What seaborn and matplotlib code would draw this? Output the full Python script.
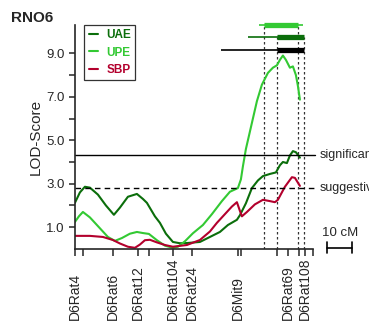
import matplotlib
matplotlib.use("Agg")
import matplotlib.pyplot as plt
import matplotlib.transforms as mtransforms
import seaborn as sns
import pandas as pd

# LOD profiles along RNO6 (position in cM)
uae_cm = [0, 2, 4, 6, 9.2, 12.4, 15.6, 18, 21.2, 24.8, 27.2, 28.8, 32, 34, 36.4, 39.2, 42, 44.8,
          50, 54, 58, 61.2, 64.8, 66, 68.4, 70.8, 73.2, 75.2, 78, 80.4, 82, 83.2, 84.8, 86,
          87.2, 88.4, 90]
uae_lod = [2.12, 2.6, 2.86, 2.82, 2.5, 2.0, 1.57, 1.9, 2.4, 2.53, 2.3, 2.12, 1.5, 1.2, 0.7, 0.32,
           0.26, 0.27, 0.32, 0.55, 0.78, 1.1, 1.34, 1.55, 2.1, 2.8, 3.15, 3.35, 3.45, 3.52, 3.85,
           4.0, 3.95, 4.3, 4.5, 4.45, 4.2]

upe_cm = [0, 1.6, 3.2, 6, 10, 13.2, 16, 18.8, 22, 24.8, 27.2, 29.6, 32.8, 36, 39.2, 41.2, 44,
          47.2, 51.2, 54.8, 58.8, 62, 65.2, 66.4, 67.2, 68.4, 70.8, 72.8, 74.8, 77.2, 79.2, 80.8,
          82, 83.2, 84.4, 86, 87.2, 88.4, 89.2, 90]
upe_lod = [1.24, 1.5, 1.7, 1.45, 0.95, 0.55, 0.37, 0.5, 0.7, 0.78, 0.73, 0.69, 0.4, 0.15, 0.05,
           0.1, 0.35, 0.72, 1.1, 1.6, 2.2, 2.63, 2.8, 3.2, 3.8, 4.6, 5.8, 6.8, 7.56, 8.1, 8.34,
           8.45, 8.7, 8.9, 8.7, 8.34, 8.4, 8.0, 7.5, 6.87]

sbp_cm = [0, 6, 11.2, 15.2, 18, 21.2, 24, 26, 28, 30, 32.8, 36, 39.2, 44.8, 50, 54, 56.8, 60,
          62.8, 64.8, 66, 66.8, 68.8, 72, 75.2, 78, 80, 81.2, 84, 86.8, 88, 90]
sbp_lod = [0.6, 0.6, 0.55, 0.41, 0.25, 0.1, 0.05, 0.2, 0.4, 0.42, 0.3, 0.18, 0.1, 0.18, 0.41, 0.8,
           1.2, 1.6, 1.95, 2.15, 1.75, 1.5, 1.7, 2.05, 2.26, 2.2, 2.15, 2.26, 2.86, 3.3, 3.27, 2.9]

# markers
marker_cm = [0, 3.2, 15.2, 25.2, 29.6, 39.2, 46.8, 65.2, 66.4, 80.8, 85.2, 89.6, 92.0, 95.2]
marker_names = ["D6Rat4", "", "D6Rat6", "D6Rat12", "", "D6Rat104", "D6Rat24", "D6Mit9", "",
                "", "D6Rat69", "", "D6Rat108", ""]

significant = 4.3
suggestive = 2.8

# confidence intervals (thin = outer, thick = inner), with y level
ci_names = ["UPE", "UAE", "SBP"]
ci_outer = [(73.6, 91.2), (69.2, 91.6), (58.4, 91.6)]
ci_inner = [(75.6, 89.2), (80.8, 91.6), (80.8, 91.6)]
ci_level = [10.3, 9.77, 9.17]

colors = {"UAE": "#0b6e0b", "UPE": "#33c933", "SBP": "#b3002d"}
ci_colors = ["#33c933", "#0b6e0b", "black"]

df = pd.concat([
    pd.DataFrame({"cM": uae_cm, "LOD": uae_lod, "trait": "UAE"}),
    pd.DataFrame({"cM": upe_cm, "LOD": upe_lod, "trait": "UPE"}),
    pd.DataFrame({"cM": sbp_cm, "LOD": sbp_lod, "trait": "SBP"}),
])

sns.set_style("ticks")
plt.rcParams["font.family"] = ["Liberation Sans", "DejaVu Sans"]

fig = plt.figure(figsize=(3.69, 3.22), dpi=100)
ax = fig.add_axes([0.203, 0.227, 0.645, 0.695])

sns.lineplot(data=df, x="cM", y="LOD", hue="trait", palette=colors, sort=False,
             estimator=None, linewidth=1.5, ax=ax)

ax.set_xlim(0, 95.2)
ax.set_ylim(0, 10.3)
for side in ["top", "right"]:
    ax.spines[side].set_visible(False)
ax.spines["left"].set_linewidth(1.2)
ax.spines["bottom"].set_linewidth(1.2)

# thresholds
ax.plot([0, 96], [significant] * 2, color="black", lw=1.0, clip_on=False)
ax.plot([0, 96], [suggestive] * 2, color="black", lw=1.0, ls=(0, (4, 3)), clip_on=False)
ax.text(1.03, significant, "significant", transform=ax.get_yaxis_transform(),
        va="center", ha="left", fontsize=9)
ax.text(1.03, suggestive, "suggestive", transform=ax.get_yaxis_transform(),
        va="center", ha="left", fontsize=9)

# confidence bars and dotted bounds
for (o0, o1), (i0, i1), lev, c in zip(ci_outer, ci_inner, ci_level, ci_colors):
    ax.plot([o0, o1], [lev, lev], color=c, lw=1.2, solid_capstyle="butt", clip_on=False)
    ax.plot([i0, i1], [lev, lev], color=c, lw=3.8, solid_capstyle="butt", clip_on=False)
for xv, top in [(75.6, 10.3), (89.2, 10.3), (80.8, 9.77), (91.6, 9.77)]:
    ax.plot([xv, xv], [0, top], color="#333333", lw=0.9, ls=(0, (2, 2)), zorder=1)

# axes ticks
ax.set_yticks([1, 3, 5, 7, 9])
ax.set_yticklabels(["1.0", "3.0", "5.0", "7.0", "9.0"], fontsize=9.5)
ax.set_yticks([2, 4, 6, 8], minor=True)
ax.tick_params(axis="y", which="both", direction="out", length=4, width=1.1)
ax.set_xticks(marker_cm)
ax.set_xticklabels([])
ax.tick_params(axis="x", direction="out", length=5, width=1.1)
ax.set_xlabel("")
ax.set_ylabel("LOD-Score", fontsize=11, labelpad=2)

# marker names, bottom-aligned like the original
trans = mtransforms.blended_transform_factory(ax.transData, fig.transFigure)
for xv, name in zip(marker_cm, marker_names):
    if name:
        ax.text(xv, 0.006, name, transform=trans, rotation=90, ha="center", va="bottom",
                fontsize=10, clip_on=False)

# legend
handles, labels = ax.get_legend_handles_labels()
leg = ax.legend(handles, labels, loc="upper left", bbox_to_anchor=(0.04, 1.0),
                borderaxespad=0, frameon=True, fancybox=False, handlelength=0.8,
                handletextpad=0.7, fontsize=8.5, borderpad=0.35, labelspacing=0.45)
leg.get_frame().set_edgecolor("black")
leg.get_frame().set_linewidth(0.9)
for txt, lab in zip(leg.get_texts(), labels):
    txt.set_color(colors[lab])
    txt.set_fontweight("bold")

# scale bar 10 cM
sx0 = 101.0
ax.plot([sx0, sx0 + 10], [0.05, 0.05], color="black", lw=1.2, clip_on=False)
for xv in [sx0, sx0 + 10]:
    ax.plot([xv, xv], [-0.2, 0.3], color="black", lw=1.2, clip_on=False)
ax.text(sx0 + 5, 0.45, "10 cM", ha="center", va="bottom", fontsize=9.5)

fig.text(0.03, 0.945, "RNO6", fontsize=11, fontweight="bold", va="center")

fig.savefig("out.png", dpi=100)
